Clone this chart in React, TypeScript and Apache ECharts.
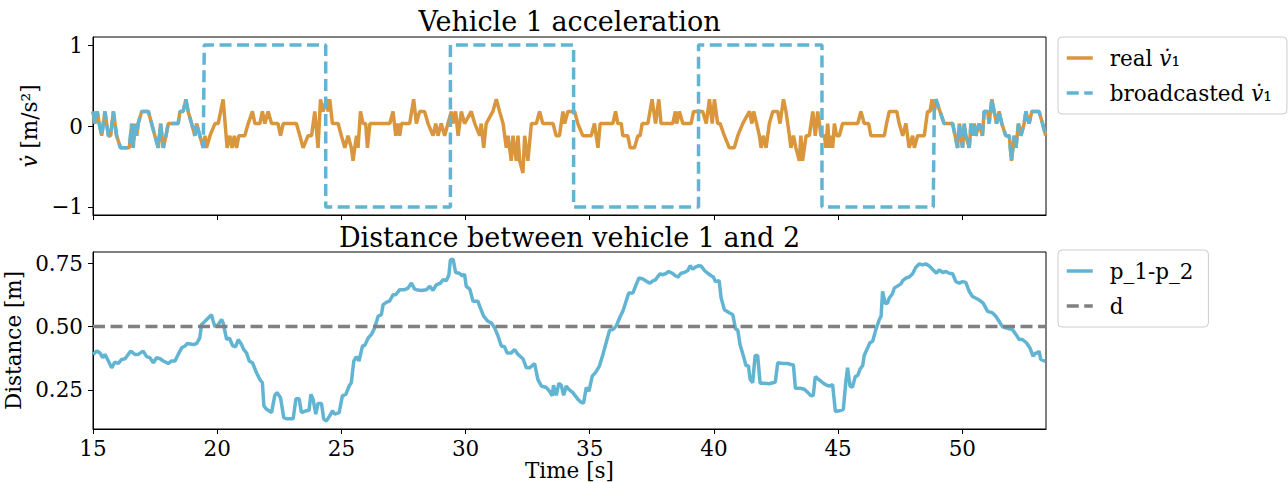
import { useEffect, useRef } from 'react';
import * as echarts from 'echarts';

const FONT = 'DejaVu Serif';
const ORANGE = '#d9963c';
const BLUE = '#62b4d3';
const GREY = '#808080';

const xMin = 15;
const xMax = 53.37;
const xTicks = [15, 20, 25, 30, 35, 40, 45, 50];
const accelTicks = [-1, 0, 1];
const distTicks = [0.25, 0.5, 0.75];
const safeDistance = 0.5;

// real acceleration of vehicle 1 [time s, accel m/s^2]
const realAccel: number[][] = [
  [15.0, 0.18], [15.08, 0.03], [15.17, 0.18], [15.25, 0.03], [15.35, -0.12], [15.48, 0.18], [15.62, -0.12],
  [15.71, -0.12], [15.82, 0.18], [15.95, -0.12], [16.11, -0.27], [16.46, -0.27], [16.56, 0.03], [16.62, -0.27],
  [16.69, 0.03], [16.76, -0.12], [16.82, 0.03], [16.96, 0.18], [17.23, 0.18], [17.36, 0.03], [17.49, -0.12],
  [17.63, -0.27], [17.72, 0.03], [17.83, -0.27], [17.94, -0.12], [18.03, 0.03], [18.43, 0.03], [18.5, 0.18],
  [18.63, 0.18], [18.74, 0.33], [18.83, 0.18], [18.97, 0.03], [19.1, -0.12], [19.17, 0.03], [19.3, -0.12],
  [19.44, -0.27], [19.51, -0.12], [19.57, -0.27], [19.71, -0.12], [19.91, 0.03], [20.04, 0.03], [20.24, 0.33],
  [20.4, -0.27], [20.51, -0.12], [20.6, -0.27], [20.69, -0.12], [20.78, -0.27], [20.87, -0.12], [21.11, -0.12],
  [21.25, 0.03], [21.42, 0.18], [21.52, 0.03], [21.72, 0.03], [21.82, 0.18], [21.92, 0.03], [22.05, 0.18],
  [22.19, 0.03], [22.45, 0.03], [22.55, -0.12], [22.66, 0.03], [23.19, 0.03], [23.33, -0.12], [23.46, -0.27],
  [23.66, -0.12], [23.8, -0.12], [23.93, 0.18], [24.06, -0.27], [24.16, 0.33], [24.26, 0.18], [24.4, 0.33],
  [24.46, 0.18], [24.53, 0.33], [24.64, 0.03], [24.87, 0.03], [25.0, -0.12], [25.14, -0.27], [25.27, -0.12],
  [25.4, -0.27], [25.47, -0.43], [25.54, -0.27], [25.61, -0.12], [25.67, -0.27], [25.77, 0.18], [25.87, 0.03],
  [25.98, 0.03], [26.05, -0.27], [26.15, 0.03], [26.95, 0.03], [27.08, 0.18], [27.19, -0.12], [27.28, 0.03],
  [27.35, -0.12], [27.42, 0.03], [27.75, 0.03], [27.91, 0.33], [28.02, 0.03], [28.15, 0.18], [28.35, 0.18],
  [28.49, 0.03], [28.69, -0.12], [28.8, 0.03], [28.89, -0.12], [29.02, 0.03], [29.16, -0.12], [29.29, 0.03],
  [29.43, 0.18], [29.49, 0.03], [29.6, 0.18], [29.7, -0.12], [29.83, 0.18], [29.96, 0.03], [30.23, 0.18],
  [30.37, 0.03], [30.57, -0.12], [30.63, 0.03], [30.73, -0.27], [30.83, 0.03], [31.1, 0.18], [31.24, 0.33],
  [31.37, 0.18], [31.51, 0.03], [31.64, -0.27], [31.71, -0.12], [31.84, -0.43], [31.91, -0.12], [32.04, -0.43],
  [32.11, -0.12], [32.18, -0.43], [32.31, -0.58], [32.38, -0.12], [32.51, -0.43], [32.65, 0.03], [32.85, 0.03],
  [32.98, 0.18], [33.11, 0.03], [33.52, 0.03], [33.65, -0.12], [33.78, -0.12], [33.92, 0.18], [33.99, 0.03],
  [34.12, 0.18], [34.27, 0.18], [34.39, 0.18], [34.52, 0.03], [34.72, -0.12], [35.06, -0.12], [35.19, 0.03],
  [35.33, -0.27], [35.42, 0.03], [35.93, 0.03], [36.04, 0.18], [36.13, 0.03], [36.27, 0.03], [36.33, -0.12],
  [36.53, -0.12], [36.63, -0.27], [36.8, -0.27], [36.94, -0.12], [37.03, -0.12], [37.11, 0.03], [37.34, 0.03],
  [37.51, 0.33], [37.65, 0.03], [37.78, 0.33], [37.87, 0.03], [38.34, 0.03], [38.45, 0.18], [38.5, 0.03],
  [38.61, 0.18], [38.75, 0.03], [39.08, 0.03], [39.18, 0.18], [39.55, 0.18], [39.69, 0.03], [39.82, 0.33],
  [39.93, 0.03], [40.02, 0.33], [40.15, 0.03], [40.25, 0.03], [40.42, -0.12], [40.62, -0.27], [40.82, -0.27],
  [40.96, -0.12], [41.16, 0.03], [41.43, 0.18], [41.53, 0.03], [41.6, 0.18], [41.72, 0.03], [41.83, -0.12],
  [41.9, -0.27], [41.99, -0.12], [42.1, -0.27], [42.23, 0.03], [42.37, 0.18], [42.57, 0.18], [42.66, 0.03],
  [42.8, 0.33], [42.9, 0.18], [43.04, -0.12], [43.1, -0.27], [43.2, -0.12], [43.3, -0.27], [43.44, -0.43],
  [43.5, -0.12], [43.57, -0.43], [43.71, -0.12], [43.84, -0.12], [43.98, 0.18], [44.08, -0.12], [44.18, 0.18],
  [44.31, -0.12], [44.45, -0.12], [44.51, -0.27], [44.58, 0.03], [44.65, -0.27], [44.71, -0.12], [44.78, -0.27],
  [44.85, 0.03], [44.94, -0.12], [45.05, -0.12], [45.18, 0.03], [45.79, 0.03], [45.92, 0.18], [46.05, 0.03],
  [46.23, 0.03], [46.32, -0.12], [46.86, -0.12], [46.95, 0.03], [47.06, 0.18], [47.36, 0.18], [47.46, 0.03],
  [47.6, -0.12], [47.73, 0.03], [47.86, -0.27], [48.0, -0.12], [48.07, -0.27], [48.2, -0.12], [48.47, -0.12],
  [48.6, 0.18], [48.7, 0.18], [48.78, 0.33], [48.87, 0.18], [48.94, 0.33], [49.1, 0.18], [49.27, 0.03],
  [49.61, 0.03], [49.71, -0.12], [49.81, -0.27], [49.88, 0.03], [49.94, -0.12], [50.01, -0.27], [50.08, 0.03],
  [50.14, -0.12], [50.28, -0.27], [50.35, 0.03], [50.41, -0.12], [50.48, 0.03], [50.55, -0.12], [50.68, 0.03],
  [50.81, -0.12], [50.88, 0.18], [51.02, 0.18], [51.08, 0.03], [51.19, 0.33], [51.28, 0.18], [51.38, 0.03],
  [51.48, 0.18], [51.59, 0.03], [51.75, -0.12], [51.89, -0.12], [51.98, -0.43], [52.09, -0.12], [52.16, -0.27],
  [52.26, 0.03], [52.36, -0.12], [52.49, 0.03], [52.56, 0.18], [52.69, 0.03], [52.8, 0.18], [53.09, 0.18],
  [53.23, 0.03], [53.36, -0.12],
];

// broadcasted square-wave part [time s, accel m/s^2]; outside it the real value is broadcast
const broadcastStart = 19.47;
const broadcastEnd = 48.86;
const broadcastSquare: number[][] = [
  [19.48, 1], [24.37, 1], [24.37, -1], [29.39, -1], [29.39, 1], [34.35, 1], [34.35, -1],
  [39.38, -1], [39.38, 1], [44.35, 1], [44.35, -1], [48.83, -1],
];

// distance between vehicle 1 and 2 [time s, distance m]
const distance: number[][] = [
  [15.0, 0.39], [15.15, 0.403], [15.28, 0.396], [15.39, 0.377], [15.48, 0.39], [15.62, 0.364], [15.75, 0.337],
  [15.88, 0.36], [16.02, 0.354], [16.15, 0.37], [16.29, 0.373], [16.42, 0.39], [16.52, 0.403], [16.69, 0.39],
  [16.82, 0.39], [17.02, 0.403], [17.16, 0.381], [17.29, 0.377], [17.43, 0.357], [17.56, 0.377], [17.7, 0.373],
  [17.83, 0.364], [18.03, 0.354], [18.16, 0.364], [18.3, 0.364], [18.43, 0.39], [18.57, 0.416], [18.7, 0.423],
  [18.79, 0.433], [19.04, 0.429], [19.17, 0.433], [19.3, 0.455], [19.37, 0.508], [19.51, 0.521], [19.64, 0.534],
  [19.77, 0.547], [19.84, 0.521], [19.91, 0.499], [20.04, 0.508], [20.18, 0.528], [20.24, 0.514], [20.31, 0.482],
  [20.38, 0.449], [20.49, 0.455], [20.62, 0.425], [20.74, 0.42], [20.85, 0.449], [20.98, 0.429], [21.07, 0.409],
  [21.18, 0.396], [21.29, 0.364], [21.42, 0.357], [21.58, 0.318], [21.72, 0.291], [21.82, 0.278], [21.88, 0.186],
  [21.99, 0.173], [22.19, 0.16], [22.32, 0.228], [22.41, 0.239], [22.55, 0.219], [22.68, 0.14], [22.79, 0.136],
  [23.06, 0.136], [23.17, 0.215], [23.3, 0.215], [23.39, 0.16], [23.57, 0.167], [23.7, 0.169], [23.77, 0.232],
  [23.86, 0.213], [23.97, 0.154], [24.06, 0.196], [24.2, 0.196], [24.29, 0.134], [24.4, 0.127], [24.53, 0.147],
  [24.64, 0.167], [24.73, 0.154], [24.91, 0.16], [25.04, 0.226], [25.18, 0.232], [25.31, 0.265], [25.4, 0.278],
  [25.5, 0.364], [25.61, 0.381], [25.71, 0.364], [25.85, 0.423], [25.94, 0.425], [26.08, 0.455], [26.21, 0.469],
  [26.34, 0.495], [26.48, 0.541], [26.61, 0.547], [26.68, 0.587], [26.81, 0.596], [26.95, 0.602], [27.08, 0.626],
  [27.19, 0.626], [27.35, 0.646], [27.55, 0.646], [27.68, 0.652], [27.82, 0.672], [27.95, 0.648], [28.02, 0.646],
  [28.22, 0.643], [28.42, 0.646], [28.56, 0.659], [28.69, 0.643], [28.82, 0.665], [28.99, 0.672], [29.09, 0.685],
  [29.23, 0.682], [29.33, 0.705], [29.39, 0.764], [29.5, 0.766], [29.6, 0.714], [29.74, 0.711], [29.87, 0.701],
  [29.96, 0.707], [30.03, 0.659], [30.17, 0.648], [30.3, 0.6], [30.5, 0.6], [30.57, 0.58], [30.73, 0.541],
  [30.9, 0.521], [31.04, 0.514], [31.17, 0.495], [31.31, 0.462], [31.44, 0.423], [31.57, 0.42], [31.67, 0.396],
  [31.84, 0.396], [31.98, 0.409], [32.11, 0.39], [32.31, 0.373], [32.45, 0.337], [32.58, 0.337], [32.78, 0.354],
  [32.91, 0.291], [33.05, 0.265], [33.25, 0.259], [33.38, 0.245], [33.49, 0.226], [33.54, 0.268], [33.65, 0.228],
  [33.76, 0.276], [33.85, 0.268], [33.95, 0.228], [34.05, 0.265], [34.16, 0.252], [34.32, 0.239], [34.52, 0.213],
  [34.66, 0.2], [34.75, 0.197], [34.86, 0.259], [34.97, 0.245], [35.1, 0.304], [35.23, 0.318], [35.39, 0.344],
  [35.53, 0.39], [35.66, 0.436], [35.8, 0.486], [35.93, 0.488], [36.06, 0.501], [36.23, 0.541], [36.33, 0.56],
  [36.44, 0.593], [36.57, 0.633], [36.74, 0.633], [36.84, 0.659], [36.98, 0.692], [37.14, 0.688], [37.3, 0.678],
  [37.43, 0.672], [37.54, 0.681], [37.65, 0.685], [37.74, 0.698], [37.84, 0.709], [37.92, 0.705], [38.05, 0.709],
  [38.18, 0.718], [38.32, 0.711], [38.45, 0.701], [38.55, 0.696], [38.68, 0.711], [38.81, 0.714], [38.95, 0.722],
  [39.04, 0.741], [39.15, 0.727], [39.26, 0.735], [39.39, 0.741], [39.48, 0.74], [39.62, 0.722], [39.75, 0.711],
  [39.89, 0.701], [39.98, 0.696], [40.06, 0.678], [40.21, 0.681], [40.29, 0.613], [40.42, 0.567], [40.6, 0.556],
  [40.76, 0.547], [40.87, 0.491], [40.96, 0.486], [41.05, 0.429], [41.19, 0.383], [41.29, 0.346], [41.39, 0.344],
  [41.46, 0.291], [41.56, 0.278], [41.66, 0.386], [41.76, 0.386], [41.86, 0.276], [42.03, 0.276], [42.23, 0.274],
  [42.37, 0.278], [42.47, 0.281], [42.57, 0.357], [42.77, 0.354], [42.97, 0.354], [43.1, 0.35], [43.2, 0.349],
  [43.28, 0.256], [43.47, 0.256], [43.64, 0.252], [43.78, 0.239], [43.91, 0.226], [44.0, 0.228], [44.08, 0.302],
  [44.24, 0.289], [44.38, 0.278], [44.54, 0.268], [44.65, 0.265], [44.78, 0.27], [44.89, 0.164], [45.05, 0.167],
  [45.21, 0.173], [45.32, 0.291], [45.38, 0.337], [45.48, 0.265], [45.58, 0.261], [45.69, 0.302], [45.79, 0.307],
  [45.88, 0.331], [45.99, 0.346], [46.05, 0.386], [46.19, 0.416], [46.28, 0.436], [46.39, 0.442], [46.52, 0.488],
  [46.66, 0.528], [46.73, 0.541], [46.79, 0.639], [46.9, 0.591], [46.99, 0.593], [47.06, 0.613], [47.19, 0.63],
  [47.26, 0.652], [47.4, 0.661], [47.53, 0.669], [47.6, 0.682], [47.73, 0.692], [47.86, 0.696], [48.0, 0.709],
  [48.13, 0.735], [48.27, 0.748], [48.4, 0.744], [48.53, 0.748], [48.67, 0.74], [48.83, 0.724], [48.96, 0.711],
  [49.07, 0.724], [49.21, 0.714], [49.34, 0.718], [49.47, 0.711], [49.61, 0.709], [49.74, 0.678], [49.88, 0.672],
  [50.01, 0.678], [50.14, 0.675], [50.28, 0.639], [50.41, 0.619], [50.61, 0.609], [50.75, 0.6], [50.84, 0.593],
  [51.02, 0.56], [51.22, 0.554], [51.35, 0.541], [51.48, 0.521], [51.62, 0.499], [51.75, 0.495], [51.89, 0.491],
  [52.02, 0.488], [52.16, 0.469], [52.29, 0.449], [52.42, 0.449], [52.58, 0.436], [52.72, 0.416], [52.85, 0.383],
  [52.96, 0.396], [53.03, 0.396], [53.09, 0.403], [53.16, 0.37], [53.3, 0.364], [53.34, 0.364],
];

const TXT = 21.5;
const LW = 3.5;
const DASH = [12, 5.5];
const textBase = { fontFamily: FONT, fontSize: TXT, color: '#000' };
const italicRich = { m: { fontFamily: FONT, fontSize: TXT, fontStyle: 'italic', color: '#000' } };

export default function App() {
  const ref = useRef<HTMLDivElement>(null);
  useEffect(() => {
    if (!ref.current) return;
    const chart = echarts.init(ref.current, null, { renderer: 'svg' });

    const broadcast = [
      ...realAccel.filter((p) => p[0] < broadcastStart),
      ...broadcastSquare,
      ...realAccel.filter((p) => p[0] > broadcastEnd),
    ];

    const xAxisCommon = {
      type: 'value',
      min: xMin,
      max: xMax,
      splitLine: { show: false },
      axisLine: { show: true, onZero: false, lineStyle: { color: '#000', width: 1 } },
      axisTick: { show: true, customValues: xTicks, length: 5, lineStyle: { color: '#000' } },
    };
    const minusFmt = (v: number) => (v < 0 ? '\u2212' + Math.abs(v) : String(v));

    const legendCommon = {
      orient: 'vertical',
      left: 1058,
      itemWidth: 26,
      itemHeight: 14,
      itemGap: 13,
      padding: [10, 15, 10, 7],
      borderColor: '#cccccc',
      borderWidth: 1,
      borderRadius: 4,
      backgroundColor: '#ffffff',
      selectedMode: false,
      itemStyle: { opacity: 0, borderWidth: 0 },
      lineStyle: { width: LW },
      textStyle: {
        ...textBase,
        padding: [0, 0, 0, 12],
        rich: italicRich,
      },
    };

    chart.setOption({
      animation: false,
      backgroundColor: '#ffffff',
      textStyle: { fontFamily: FONT },
      grid: [
        { left: 93, top: 37, width: 953, height: 178, show: true, borderColor: '#000', borderWidth: 1, backgroundColor: 'transparent', outerBoundsMode: 'none' },
        { left: 93, top: 252, width: 953, height: 177, show: true, borderColor: '#000', borderWidth: 1, backgroundColor: 'transparent', outerBoundsMode: 'none' },
      ],
      xAxis: [
        { ...xAxisCommon, gridIndex: 0, axisLabel: { show: false } },
        {
          ...xAxisCommon,
          gridIndex: 1,
          axisLabel: { show: true, customValues: xTicks, margin: 8, ...textBase },
          name: 'Time [s]',
          nameLocation: 'middle',
          nameGap: 27,
          nameTextStyle: { ...textBase },
        },
      ],
      yAxis: [
        {
          type: 'value',
          gridIndex: 0,
          min: -1.1,
          max: 1.1,
          splitLine: { show: false },
          axisLine: { show: true, onZero: false, lineStyle: { color: '#000' } },
          axisTick: { show: true, customValues: accelTicks, length: 5, lineStyle: { color: '#000' } },
          axisLabel: { show: true, customValues: accelTicks, margin: 10, formatter: minusFmt, ...textBase },
          name: '{m|v\u0307} [m/s\u00b2]',
          nameLocation: 'middle',
          nameRotate: 90,
          nameGap: 45,
          nameTextStyle: { ...textBase, rich: italicRich },
        },
        {
          type: 'value',
          gridIndex: 1,
          min: 0.095,
          max: 0.795,
          splitLine: { show: false },
          axisLine: { show: true, onZero: false, lineStyle: { color: '#000' } },
          axisTick: { show: true, customValues: distTicks, length: 5, lineStyle: { color: '#000' } },
          axisLabel: { show: true, customValues: distTicks, margin: 10, formatter: (v: number) => v.toFixed(2), ...textBase },
          name: 'Distance [m]',
          nameLocation: 'middle',
          nameRotate: 90,
          nameGap: 61,
          nameTextStyle: { ...textBase },
        },
      ],
      legend: [
        {
          ...legendCommon,
          top: 37,
          data: ['real v\u0307\u2081', 'broadcasted v\u0307\u2081'],
          formatter: (name: string) => name.replace('v\u0307\u2081', '{m|v\u0307}\u2081'),
        },
        {
          ...legendCommon,
          top: 250,
          data: ['p_1-p_2', 'd'],
        },
      ],
      graphic: [
        { type: 'text', x: 569.5, y: 21, style: { text: 'Vehicle 1 acceleration', fontFamily: FONT, fontSize: 27, fill: '#000', align: 'center', verticalAlign: 'middle' } },
        { type: 'text', x: 569.5, y: 237, style: { text: 'Distance between vehicle 1 and 2', fontFamily: FONT, fontSize: 27, fill: '#000', align: 'center', verticalAlign: 'middle' } },
      ],
      series: [
        {
          name: 'real v\u0307\u2081',
          type: 'line',
          xAxisIndex: 0,
          yAxisIndex: 0,
          data: realAccel,
          showSymbol: false,
          symbol: 'none',
          lineStyle: { color: ORANGE, width: LW },
          itemStyle: { color: ORANGE },
          z: 2,
        },
        {
          name: 'broadcasted v\u0307\u2081',
          type: 'line',
          xAxisIndex: 0,
          yAxisIndex: 0,
          data: broadcast,
          showSymbol: false,
          symbol: 'none',
          lineStyle: { color: BLUE, width: LW, type: DASH },
          itemStyle: { color: BLUE },
          z: 3,
        },
        {
          name: 'p_1-p_2',
          type: 'line',
          xAxisIndex: 1,
          yAxisIndex: 1,
          data: distance,
          showSymbol: false,
          symbol: 'none',
          lineStyle: { color: BLUE, width: LW },
          itemStyle: { color: BLUE },
          z: 2,
        },
        {
          name: 'd',
          type: 'line',
          xAxisIndex: 1,
          yAxisIndex: 1,
          data: [[xMin, safeDistance], [xMax, safeDistance]],
          showSymbol: false,
          symbol: 'none',
          lineStyle: { color: GREY, width: LW, type: DASH },
          itemStyle: { color: GREY },
          z: 3,
        },
      ],
    });
    return () => chart.dispose();
  }, []);
  return (
    <div
      ref={ref}
      style={{ position: 'absolute', left: 0, top: 0, width: 1288, height: 483, background: '#fff' }}
    />
  );
}
